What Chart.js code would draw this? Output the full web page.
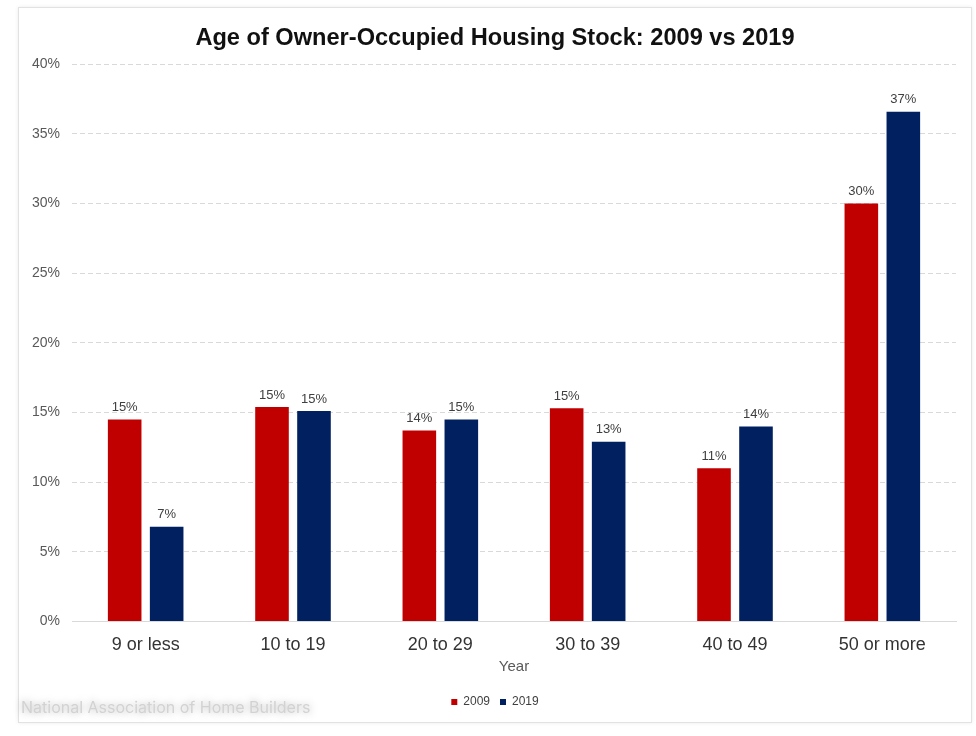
<!DOCTYPE html>
<html>
<head>
<meta charset="utf-8">
<script src="https://cdn.jsdelivr.net/npm/chart.js@4.4.1/dist/chart.umd.min.js"></script>
<style>
    body { margin: 0; background: #ffffff; font-family: "Liberation Sans", Arial, sans-serif; }
    #card {
        position: absolute; left: 18px; top: 7px; width: 952px; height: 714px;
        border: 1px solid #e2e2e2; box-shadow: 0 0 4px rgba(0,0,0,0.08); background: #ffffff;
    }
    #watermark {
        position: absolute; left: 21px; top: 697px;
        font-family: "Inter", "Noto Sans", sans-serif; font-size: 16px; color: #d2d2d2;
        text-shadow: 0 0 9px rgba(0,0,0,0.35); white-space: nowrap;
    }
</style>
</head>
<body>
<div id="card"><canvas id="chart"></canvas></div>
<div id="watermark">National Association of Home Builders</div>

<script>
// age of home (years) buckets on the x axis
var categories = ['9 or less', '10 to 19', '20 to 29', '30 to 39', '40 to 49', '50 or more'];
// share of owner-occupied stock, in percent
var values2009 = [14.5, 15.4, 13.7, 15.3, 11.0, 30.0];
var values2019 = [6.8, 15.1, 14.5, 12.9, 14.0, 36.6];
var yTicks = [0, 5, 10, 15, 20, 25, 30, 35, 40];

var RED = '#C00000';
var NAVY = '#002060';

// little plugin that writes the rounded value above each bar
var barLabels = {
    id: 'barLabels',
    afterDatasetsDraw: function (chart) {
        var ctx = chart.ctx;
        ctx.save();
        ctx.font = '13px "Liberation Sans", Arial, sans-serif';
        ctx.fillStyle = '#404040';
        ctx.textAlign = 'center';
        ctx.textBaseline = 'middle';
        chart.data.datasets.forEach(function (ds, i) {
            var meta = chart.getDatasetMeta(i);
            meta.data.forEach(function (bar, j) {
                ctx.fillText(Math.round(ds.data[j]) + '%', bar.x, bar.y - 12);
            });
        });
        ctx.restore();
    }
};

var ctx = document.getElementById('chart');
new Chart(ctx, {
    type: 'bar',
    data: {
        labels: categories,
        datasets: [
            { label: '2009', data: values2009, backgroundColor: RED },
            { label: '2019', data: values2019, backgroundColor: NAVY }
        ]
    },
    options: {
        responsive: true,
        maintainAspectRatio: false,
        animation: false,
        categoryPercentage: 0.57,
        barPercentage: 0.8,
        layout: { padding: { top: 0, left: 0, right: 0, bottom: 4 } },
        plugins: {
            title: {
                display: true,
                text: 'Age of Owner-Occupied Housing Stock: 2009 vs 2019',
                color: '#111111',
                font: { family: '"Liberation Sans", Arial, sans-serif', size: 23.6, weight: 'bold' },
                padding: { top: 16, bottom: 12 }
            },
            legend: {
                position: 'bottom',
                labels: {
                    boxWidth: 6,
                    boxHeight: 6,
                    padding: 10,
                    color: '#404040',
                    font: { family: '"Liberation Sans", Arial, sans-serif', size: 12 }
                }
            },
            tooltip: { enabled: false }
        },
        scales: {
            x: {
                grid: { display: false, drawTicks: false },
                border: { display: true, color: '#d9d9d9', width: 1 },
                ticks: {
                    padding: 13,
                    color: '#333333',
                    font: { family: '"Liberation Sans", Arial, sans-serif', size: 18 }
                },
                title: {
                    display: true,
                    text: 'Year',
                    color: '#595959',
                    font: { family: '"Liberation Sans", Arial, sans-serif', size: 15 },
                    padding: { top: -11, bottom: 10 }
                }
            },
            y: {
                min: 0,
                max: 40,
                afterBuildTicks: function (scale) {
                    scale.ticks = yTicks.map(function (v) { return { value: v }; });
                },
                afterFit: function (scale) { scale.width = 53; },
                grid: { color: '#d9d9d9', drawTicks: false },
                border: { display: false, dash: [5, 3] },
                ticks: {
                    padding: 12,
                    color: '#595959',
                    font: { family: '"Liberation Sans", Arial, sans-serif', size: 14 },
                    callback: function (v) { return v + '%'; }
                }
            },
            // empty axis on the right, only keeps some room beside the plot
            yRight: {
                position: 'right',
                grid: { display: false, drawTicks: false },
                border: { display: false },
                ticks: { display: false },
                afterFit: function (scale) { scale.width = 15; }
            }
        }
    },
    plugins: [barLabels]
});
</script>
</body>
</html>
